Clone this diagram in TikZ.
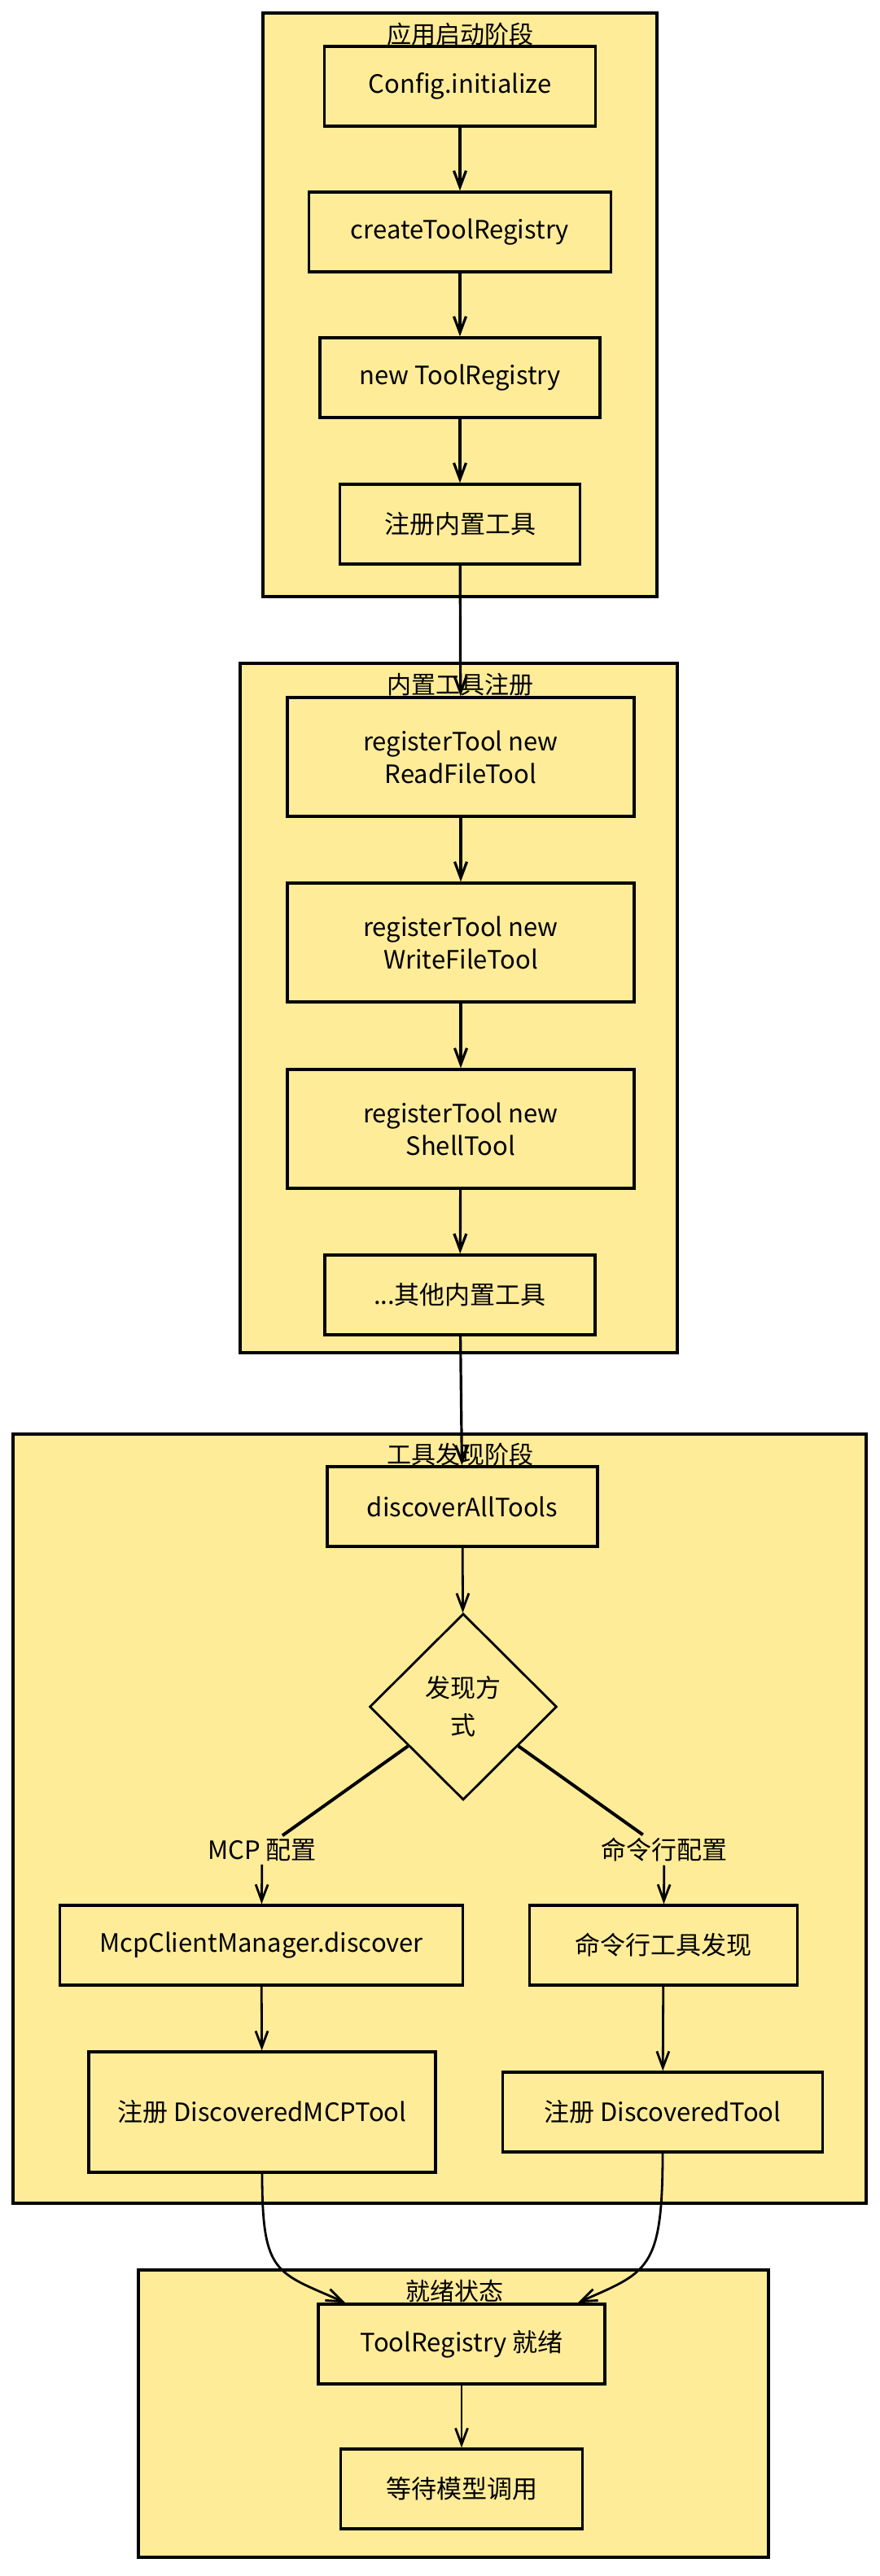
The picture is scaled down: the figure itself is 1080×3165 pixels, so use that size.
\documentclass[tikz,border=0pt]{standalone}
\usepackage{fontspec}
\setmainfont{Noto Sans CJK SC}
\usetikzlibrary{arrows.meta,shapes.geometric}
\definecolor{fillY}{HTML}{FFEC99}
\begin{document}
\begin{tikzpicture}[x=1pt,y=-1pt,
  cluster/.style={draw=black,line width=3.4pt,fill=fillY},
  ttl/.style={font=\fontsize{30}{32}\selectfont,inner sep=0pt,anchor=base},
  box/.style={draw=black,line width=3.4pt,fill=fillY,minimum width=#1,minimum height=98pt,inner sep=0pt,align=center,font=\fontsize{31}{40}\selectfont},
  box/.default=330pt,
  tallbox/.style={box=#1,minimum height=146pt},
  dia/.style={diamond,draw=black,line width=2.8pt,fill=fillY,minimum width=230pt,minimum height=229pt,inner sep=0pt,align=center,font=\fontsize{31}{46}\selectfont},
  lbl/.style={font=\fontsize{31}{34}\selectfont,inner sep=4pt},
  arr/.style={draw=black,line width=3.2pt,-{Straight Barb[length=20pt,width=15pt]}},
  arrb/.style={draw=black,line width=2.8pt,-{Straight Barb[length=20pt,width=15pt]}},
  thickl/.style={draw=black,line width=4pt},
]
\useasboundingbox (0,0) rectangle (1080,3165);
\fill[white] (0,0) rectangle (1080,3165);

% clusters
\draw[cluster] (323,16) rectangle (807,733);
\draw[cluster] (295,815) rectangle (832,1662);
\draw[cluster] (16,1762) rectangle (1064,2707);
\draw[cluster] (170,2789) rectangle (944,3142);

% titles
\node[ttl] (t1) at (565,53) {应用启动阶段};
\node[ttl] (t2) at (565,852) {内置工具注册};
\node[ttl] (t3) at (565,1798) {工具发现阶段};
\node[ttl] (t4) at (558,2826) {就绪状态};

% cluster 1
\node[box=333pt] (n1) at (565,106) {Config.initialize};
\node[box=371pt] (n2) at (565,285) {createToolRegistry};
\node[box=344pt] (n3) at (565,464) {new ToolRegistry};
\node[box=295pt] (n4) at (565,644) {注册内置工具};

% cluster 2
\node[tallbox=426pt] (n5) at (566,930) {registerTool new\\ReadFileTool};
\node[tallbox=426pt] (n6) at (566,1158) {registerTool new\\WriteFileTool};
\node[tallbox=426pt] (n7) at (566,1387) {registerTool new\\ShellTool};
\node[box=332pt] (n8) at (565,1591) {...其他内置工具};

% cluster 3
\node[box=332pt] (n9) at (568,1851) {discoverAllTools};
\node[dia] (d) at (569,2097) {发现方\\式};
\node[lbl] (lm) at (322,2273) {MCP 配置};
\node[lbl] (lc) at (816,2273) {命令行配置};
\node[box=495pt] (n10) at (321,2390) {McpClientManager.discover};
\node[box=329pt] (n11) at (815,2390) {命令行工具发现};
\node[tallbox=426pt,minimum height=148pt] (n12) at (322,2595) {注册 DiscoveredMCPTool};
\node[box=393pt] (n13) at (814,2595) {注册 DiscoveredTool};

% cluster 4
\node[box=352pt] (n14) at (567,2880) {ToolRegistry 就绪};
\node[box=297pt] (n15) at (567,3058) {等待模型调用};

% edges
\draw[arr] (n1) -- (n2);
\draw[arr] (n2) -- (n3);
\draw[arr] (n3) -- (n4);
\draw[arr] (n4) -- (n5);
\draw[arr] (n5) -- (n6);
\draw[arr] (n6) -- (n7);
\draw[arr] (n7) -- (n8);
\draw[arr] (n8) -- (n9);
\draw[arrb] (n9) -- (d);
\draw[thickl] (d) -- (lm);
\draw[thickl] (d) -- (lc);
\draw[arrb] (lm) -- (n10);
\draw[arrb] (lc) -- (n11);
\draw[arrb] (n10) -- (n12);
\draw[arrb] (n11) -- (n13);
\draw[arrb] (n12.south) .. controls +(0,125) and +(-85,-38) .. ([xshift=35pt]n14.north west);
\draw[arrb] (n13.south) .. controls +(0,145) and +(85,-38) .. ([xshift=-35pt]n14.north east);
\draw[arrb] (n14) -- (n15);
\end{tikzpicture}
\end{document}
